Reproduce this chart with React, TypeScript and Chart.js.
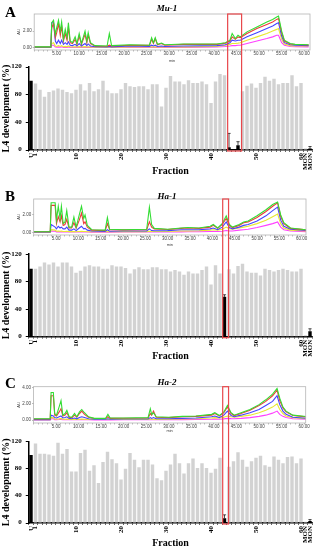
import React, { useEffect, useRef, useState } from "react";
import { Chart, registerables } from "chart.js";

Chart.register(...registerables);

const SERIF = "'Liberation Serif', 'DejaVu Serif', serif";
const SANS = "'Liberation Sans', 'DejaVu Sans', sans-serif";

// ---------- bar chart data ----------
const FRACTIONS = [
  "U", "1", "2", "3", "4", "5", "6", "7", "8", "9", "10",
  "11", "12", "13", "14", "15", "16", "17", "18", "19", "20",
  "21", "22", "23", "24", "25", "26", "27", "28", "29", "30",
  "31", "32", "33", "34", "35", "36", "37", "38", "39", "40",
  "41", "42", "43", "44", "45", "46", "47", "48", "49", "50",
  "51", "52", "53", "54", "55", "56", "57", "58", "59", "60",
  "MON", "MON",
];
const SHOWN_FRACTION_TICKS = ["U", "1", "10", "20", "30", "40", "50", "60", "MON"];
const BAR_Y_TICKS = [0, 40, 80, 120];
const BAR_Y_TITLE = "L4 development (%)";

const A_VALUES = [
  100,
  96, 87, 77, 84, 86, 89, 87, 84, 82, 87,
  95, 86, 97, 85, 88, 100, 86, 82, 82, 88,
  97, 92, 91, 92, 92, 88, 95, 95, 63, 90,
  107, 99, 99, 95, 101, 97, 97, 99, 95, 68,
  99, 110, 108, 4, 1, 7, 85, 93, 96, 90,
  97, 106, 100, 103, 95, 97, 97, 108, 92, 97,
  2, 2,
];
const A_BLACK = ["U", "44", "45", "46", "MON+"];
const A_ERRORS = [[44, 20], [46, 5], [62, 3]];

const B_VALUES = [
  99,
  99, 102, 108, 105, 108, 102, 108, 108, 102, 93,
  96, 102, 104, 102, 102, 99, 99, 104, 102, 102,
  100, 92, 98, 101, 98, 98, 101, 101, 98, 98,
  95, 97, 95, 90, 95, 92, 92, 97, 102, 76,
  104, 92, 58, 98, 92, 103, 106, 95, 93, 93,
  89, 99, 97, 95, 97, 99, 97, 95, 95, 99,
  2, 8,
];
const B_BLACK = ["U", "43", "MON+"];
const B_ERRORS = [[43, 3], [62, 3.5]];

const C_VALUES = [
  100,
  117, 102, 102, 101, 99, 118, 102, 109, 76, 76,
  103, 108, 77, 85, 59, 90, 105, 94, 88, 64,
  80, 103, 93, 82, 93, 93, 86, 66, 63, 77,
  86, 102, 88, 73, 88, 95, 81, 88, 81, 74,
  80, 96, 7, 83, 91, 104, 93, 83, 91, 96,
  99, 85, 83, 98, 93, 88, 97, 98, 88, 95,
  2, 3,
];
const C_BLACK = ["U", "43", "MON+"];
const C_ERRORS = [[43, 5], [62, 2]];

// red highlight box, in fraction units
const A_BOX = [43.7, 46.8];
const B_BOX = [42.6, 43.9];
const C_BOX = [42.6, 43.9];

// ---------- chromatogram data ----------
const CHROM_X_LABELS = [5, 10, 15, 20, 25, 30, 35, 40, 45, 50, 55, 60];

const A_TIME = [0, 3.7, 3.9, 4.3, 4.7, 5.0, 5.4, 5.8, 6.1, 6.5, 6.9, 7.3, 7.6, 8.0, 8.5, 9.1, 9.5, 10.0, 10.5, 11.3, 11.7, 12.0, 12.5, 13.5, 16.2, 16.7, 17.2, 21.3, 25.6, 26.1, 26.5, 26.9, 27.4, 28.3, 29.0, 33.2, 40.6, 42.5, 43.5, 44.0, 44.7, 45.3, 45.8, 47.3, 49.5, 51.7, 53.0, 53.9, 54.3, 55.0, 55.6, 56.9, 58.0, 61.0];
const A_GREEN = [0.1, 0.1, 3.0, 3.3, 1.6, 2.4, 3.3, 2.0, 3.1, 1.0, 2.2, 1.2, 3.0, 0.8, 0.6, 1.3, 0.5, 1.7, 0.5, 2.0, 0.8, 1.8, 0.6, 0.25, 0.2, 1.7, 0.25, 0.35, 0.3, 1.2, 0.6, 1.2, 0.4, 0.55, 0.35, 0.45, 0.45, 0.6, 0.9, 1.7, 1.1, 1.5, 1.3, 1.9, 2.5, 3.1, 3.4, 3.7, 3.8, 2.0, 0.9, 0.5, 0.4, 0.35];
const A_RED = [0.08, 0.08, 2.4, 2.9, 1.2, 1.8, 2.9, 1.5, 2.6, 0.8, 1.7, 0.9, 2.5, 0.6, 0.5, 1.0, 0.4, 1.4, 0.4, 1.6, 0.6, 1.5, 0.5, 0.2, 0.18, 0.3, 0.2, 0.3, 0.28, 1.0, 0.5, 1.1, 0.35, 0.5, 0.3, 0.4, 0.4, 0.55, 0.8, 1.3, 1.0, 1.3, 1.2, 1.7, 2.3, 2.8, 3.1, 3.4, 3.5, 1.8, 0.8, 0.45, 0.38, 0.33];
const A_BLUE = [0.05, 0.05, 3.0, 3.0, 0.8, 0.5, 0.9, 0.5, 0.9, 0.4, 0.6, 0.4, 0.7, 0.3, 0.25, 0.4, 0.2, 0.5, 0.2, 0.5, 0.25, 0.45, 0.2, 0.12, 0.1, 0.15, 0.1, 0.2, 0.15, 0.3, 0.2, 0.3, 0.15, 0.2, 0.15, 0.2, 0.25, 0.35, 0.6, 0.9, 0.8, 0.9, 0.9, 1.3, 1.8, 2.3, 2.6, 2.9, 3.0, 1.4, 0.6, 0.35, 0.3, 0.25];
const A_YELLOW = [0.05, 0.05, 0.5, 0.6, 0.2, 0.15, 0.25, 0.15, 0.25, 0.1, 0.15, 0.1, 0.2, 0.08, 0.08, 0.1, 0.08, 0.12, 0.08, 0.12, 0.08, 0.1, 0.08, 0.06, 0.06, 0.07, 0.06, 0.08, 0.08, 0.1, 0.08, 0.1, 0.08, 0.1, 0.08, 0.1, 0.15, 0.3, 0.4, 0.5, 0.5, 0.55, 0.6, 0.9, 1.3, 1.7, 2.0, 2.2, 2.3, 1.0, 0.45, 0.25, 0.22, 0.2];
const A_MAGENTA = [0.02, 0.02, 0.3, 0.3, 0.08, 0.06, 0.1, 0.06, 0.1, 0.04, 0.06, 0.04, 0.08, 0.03, 0.03, 0.04, 0.03, 0.05, 0.03, 0.05, 0.03, 0.04, 0.03, 0.02, 0.02, 0.03, 0.02, 0.03, 0.03, 0.04, 0.03, 0.04, 0.03, 0.04, 0.03, 0.04, 0.08, 0.15, 0.2, 0.25, 0.25, 0.3, 0.3, 0.5, 0.8, 1.1, 1.3, 1.5, 1.5, 0.6, 0.3, 0.15, 0.12, 0.1];

const B_TIME = [0, 3.7, 3.9, 4.8, 5.1, 5.5, 5.9, 6.2, 6.6, 7.0, 7.4, 7.9, 8.5, 9.0, 9.5, 10.2, 10.7, 11.2, 11.5, 12.0, 13.0, 16.0, 16.5, 17.0, 20.0, 25.3, 25.9, 26.4, 27.0, 30.0, 33.0, 34.5, 37.0, 39.5, 40.2, 41.2, 42.2, 43.1, 43.8, 44.5, 46.0, 47.0, 48.0, 50.0, 52.0, 53.5, 54.6, 55.3, 56.0, 57.5, 61.0];
const B_GREEN = [0.07, 0.07, 3.4, 3.4, 1.4, 3.0, 1.6, 3.0, 1.0, 1.2, 2.5, 0.6, 0.6, 1.75, 0.6, 2.0, 3.0, 1.6, 2.0, 0.8, 0.3, 0.25, 1.7, 0.35, 0.3, 0.35, 2.9, 0.9, 0.45, 0.35, 0.5, 0.55, 0.5, 0.7, 0.9, 0.5, 1.0, 1.9, 0.9, 0.6, 0.9, 1.2, 1.3, 1.9, 2.6, 3.2, 3.5, 2.0, 1.1, 0.5, 0.3];
const B_RED = [0.06, 0.06, 3.1, 3.1, 1.0, 1.8, 1.2, 1.9, 0.8, 0.9, 1.5, 0.5, 0.5, 1.1, 0.5, 1.4, 2.2, 1.0, 1.2, 0.6, 0.25, 0.2, 1.0, 0.3, 0.28, 0.3, 1.2, 0.6, 0.4, 0.32, 0.45, 0.5, 0.45, 0.6, 0.8, 0.45, 0.9, 1.6, 0.8, 0.55, 0.8, 1.1, 1.2, 1.7, 2.4, 3.0, 3.4, 1.8, 1.0, 0.45, 0.28];
const B_BLUE = [0.04, 0.04, 0.9, 0.6, 0.4, 0.7, 0.5, 0.6, 0.4, 0.4, 0.6, 0.25, 0.25, 0.4, 0.2, 0.5, 0.7, 0.4, 0.45, 0.25, 0.15, 0.1, 0.3, 0.12, 0.15, 0.15, 0.4, 0.2, 0.18, 0.2, 0.3, 0.3, 0.3, 0.4, 0.5, 0.3, 0.6, 1.2, 0.55, 0.4, 0.6, 0.8, 0.9, 1.3, 1.9, 2.5, 2.9, 1.4, 0.7, 0.35, 0.2];
const B_YELLOW = [0.04, 0.04, 0.3, 0.25, 0.12, 0.15, 0.12, 0.14, 0.1, 0.1, 0.12, 0.08, 0.08, 0.1, 0.07, 0.1, 0.12, 0.09, 0.1, 0.07, 0.06, 0.06, 0.08, 0.06, 0.08, 0.08, 0.12, 0.09, 0.09, 0.1, 0.15, 0.15, 0.18, 0.25, 0.3, 0.25, 0.35, 0.6, 0.4, 0.35, 0.5, 0.6, 0.7, 1.0, 1.4, 1.8, 2.1, 1.0, 0.5, 0.25, 0.15];
const B_MAGENTA = [0.02, 0.02, 0.15, 0.12, 0.05, 0.06, 0.05, 0.06, 0.04, 0.04, 0.05, 0.03, 0.03, 0.04, 0.03, 0.04, 0.05, 0.04, 0.04, 0.03, 0.02, 0.02, 0.03, 0.02, 0.03, 0.03, 0.05, 0.03, 0.03, 0.04, 0.05, 0.06, 0.07, 0.09, 0.1, 0.09, 0.12, 0.2, 0.15, 0.15, 0.25, 0.3, 0.35, 0.55, 0.8, 1.0, 1.2, 0.6, 0.3, 0.15, 0.08];

const C_TIME = [0, 3.7, 3.9, 4.4, 4.7, 5.1, 5.7, 6.1, 6.5, 7.0, 7.4, 7.9, 8.5, 9.1, 9.6, 10.2, 10.7, 11.3, 12.2, 13.5, 16.0, 16.5, 17.0, 20.0, 25.4, 25.9, 26.2, 26.6, 27.2, 30.0, 33.0, 36.0, 39.5, 40.2, 41.2, 42.2, 43.0, 43.8, 44.5, 46.0, 48.0, 50.0, 51.5, 53.0, 54.0, 54.6, 55.3, 56.0, 57.5, 61.0];
const C_GREEN = [0.15, 0.15, 3.4, 3.4, 0.8, 0.6, 1.65, 2.4, 0.6, 0.8, 1.2, 0.4, 0.35, 0.8, 0.4, 1.0, 1.3, 0.9, 0.4, 0.2, 0.2, 0.7, 0.25, 0.25, 0.3, 1.4, 0.7, 0.9, 0.4, 0.35, 0.45, 0.5, 0.7, 0.9, 0.55, 1.0, 1.8, 0.9, 0.6, 0.9, 1.3, 1.9, 2.5, 3.2, 3.9, 2.7, 1.6, 1.1, 0.6, 0.4];
const C_RED = [0.12, 0.12, 3.0, 3.0, 0.6, 0.5, 1.0, 1.4, 0.5, 0.6, 0.9, 0.35, 0.3, 0.6, 0.35, 0.8, 1.1, 0.7, 0.35, 0.18, 0.18, 0.4, 0.2, 0.22, 0.25, 0.8, 0.6, 1.1, 0.35, 0.3, 0.4, 0.45, 0.6, 0.8, 0.5, 0.9, 1.6, 0.8, 0.55, 0.8, 1.2, 1.8, 2.3, 3.0, 3.7, 2.4, 1.5, 1.0, 0.55, 0.35];
const C_BLUE = [0.05, 0.05, 0.6, 0.5, 0.3, 0.25, 0.4, 0.5, 0.25, 0.3, 0.4, 0.2, 0.15, 0.25, 0.15, 0.3, 0.4, 0.3, 0.15, 0.1, 0.1, 0.15, 0.1, 0.12, 0.12, 0.3, 0.2, 0.3, 0.15, 0.15, 0.2, 0.25, 0.4, 0.5, 0.3, 0.6, 1.1, 0.55, 0.4, 0.6, 0.9, 1.3, 1.8, 2.3, 3.0, 1.9, 1.1, 0.7, 0.35, 0.2];
const C_YELLOW = [0.04, 0.04, 0.3, 0.3, 0.12, 0.1, 0.15, 0.2, 0.1, 0.1, 0.12, 0.08, 0.07, 0.08, 0.07, 0.1, 0.12, 0.1, 0.07, 0.06, 0.06, 0.07, 0.06, 0.07, 0.07, 0.12, 0.09, 0.1, 0.08, 0.09, 0.12, 0.15, 0.25, 0.3, 0.25, 0.35, 0.5, 0.4, 0.35, 0.45, 0.6, 0.9, 1.2, 1.6, 2.0, 1.3, 0.8, 0.5, 0.3, 0.15];
const C_MAGENTA = [0.02, 0.02, 0.15, 0.15, 0.05, 0.04, 0.06, 0.08, 0.04, 0.04, 0.05, 0.03, 0.03, 0.03, 0.03, 0.04, 0.05, 0.04, 0.03, 0.02, 0.02, 0.03, 0.02, 0.03, 0.03, 0.05, 0.04, 0.04, 0.03, 0.04, 0.05, 0.06, 0.1, 0.12, 0.1, 0.14, 0.2, 0.17, 0.16, 0.2, 0.3, 0.45, 0.6, 0.85, 1.1, 0.7, 0.45, 0.3, 0.15, 0.08];

// ---------- styles ----------
const GRAY = "#d2d2d2";
const RED_BOX = "#e8484c";
const LINE_COLORS = { green: "#33dd33", red: "#ee3a3a", blue: "#4444ff", yellow: "#e8e830", magenta: "#ff40ff" };

type ChromSpec = {
  top: number; height: number; chartTop: number; chartBottom: number;
  left: number; right: number; yMin: number; yMax: number; xMax: number; yTicks: number[];
  minPad: number;
  time: number[]; green: number[]; red: number[]; blue: number[]; yellow: number[]; magenta: number[];
};

type BarSpec = {
  top: number; height: number; chartTop: number; chartBottom: number; boxTop: number;
  values: number[]; black: string[]; errors: number[][]; box: number[]; titlePad: number;
};

type LabelPos = { text: string; x: number; y: number };

function chromConfig(p: ChromSpec): any {
  const mk = (arr: number[], color: string) => ({
    data: p.time.map((t, i) => ({ x: t, y: arr[i] })),
    borderColor: color,
    borderWidth: 1.1,
    pointRadius: 0,
    tension: 0,
    fill: false,
  });
  const minuteTicks: number[] = [];
  for (let m = 0; m <= Math.floor(p.xMax); m++) minuteTicks.push(m);
  return {
    type: "line",
    data: {
      datasets: [
        mk(p.green, LINE_COLORS.green),
        mk(p.red, LINE_COLORS.red),
        mk(p.blue, LINE_COLORS.blue),
        mk(p.yellow, LINE_COLORS.yellow),
        mk(p.magenta, LINE_COLORS.magenta),
      ],
    },
    options: {
      responsive: false,
      animation: false,
      events: [],
      plugins: { legend: { display: false }, tooltip: { enabled: false } },
      layout: { padding: { top: p.chartTop, right: 320 - p.right, left: 0, bottom: 0 } },
      scales: {
        x: {
          type: "linear",
          min: 0,
          max: p.xMax,
          afterBuildTicks: (s: any) => { s.ticks = minuteTicks.map((v) => ({ value: v })); },
          afterFit: (s: any) => { s.height = p.height - p.chartBottom; },
          grid: { drawOnChartArea: false, tickLength: 1.5, color: "#777", lineWidth: 0.5 },
          border: { display: false },
          ticks: {
            autoSkip: false, maxRotation: 0, minRotation: 0, padding: 0,
            color: "#444", font: { family: SANS, size: 4.5 },
            callback: (v: number) => (CHROM_X_LABELS.includes(v) ? v.toFixed(2) : ""),
          },
          title: { display: true, text: "min", color: "#444", font: { family: SANS, size: 4 }, padding: { top: 0, bottom: p.minPad } },
        },
        y: {
          min: p.yMin,
          max: p.yMax,
          afterBuildTicks: (s: any) => { s.ticks = p.yTicks.map((v) => ({ value: v })); },
          afterFit: (s: any) => { s.width = p.left; },
          grid: { drawOnChartArea: false, tickLength: 1.5, color: "#777", lineWidth: 0.5 },
          border: { display: false },
          ticks: { autoSkip: false, padding: 1, color: "#444", font: { family: SANS, size: 4.5 }, callback: (v: number) => v.toFixed(2) },
          title: { display: true, text: "AU", color: "#444", font: { family: SANS, size: 4 }, padding: { top: 16, bottom: 0 } },
        },
      },
    },
    plugins: [
      {
        id: "frame",
        afterDraw(chart: any) {
          const { ctx, chartArea: a } = chart;
          ctx.save();
          ctx.strokeStyle = "#b5b5b5";
          ctx.lineWidth = 0.8;
          ctx.strokeRect(a.left, a.top, a.right - a.left, a.bottom - a.top);
          ctx.restore();
        },
      },
    ],
  };
}

function barConfig(p: BarSpec): any {
  const colors = p.values.map((_, i) => {
    const isBlack =
      (i === 0 && p.black.includes("U")) ||
      (i === FRACTIONS.length - 1 && p.black.includes("MON+")) ||
      (i > 0 && i < 61 && p.black.includes(FRACTIONS[i]));
    return isBlack ? "#000" : GRAY;
  });
  return {
    type: "bar",
    data: {
      labels: FRACTIONS,
      datasets: [{ data: p.values, backgroundColor: colors, barPercentage: 0.76, categoryPercentage: 1 }],
    },
    options: {
      responsive: false,
      animation: false,
      events: [],
      plugins: { legend: { display: false }, tooltip: { enabled: false } },
      layout: { padding: { top: p.chartTop, right: 7.75, left: 0, bottom: 0 } },
      scales: {
        x: {
          afterFit: (s: any) => { s.height = p.height - p.chartBottom; },
          grid: { drawOnChartArea: false, tickLength: 2, color: "#000", lineWidth: 0.6 },
          border: { color: "#000", width: 1.5 },
          ticks: {
            autoSkip: false, maxRotation: 90, minRotation: 90, padding: 1,
            color: "#000", font: { family: SERIF, size: 7, weight: "bold" },
            callback: (_v: any, i: number) => (SHOWN_FRACTION_TICKS.includes(FRACTIONS[i]) ? FRACTIONS[i] : ""),
          },
          title: { display: true, text: "Fraction", color: "#000", font: { family: SERIF, size: 10, weight: "bold" }, padding: { top: 0, bottom: p.titlePad } },
        },
        y: {
          type: "linear",
          min: 0,
          max: 120,
          afterBuildTicks: (s: any) => { s.ticks = BAR_Y_TICKS.map((v) => ({ value: v })); },
          afterFit: (s: any) => { s.width = 28.75; },
          grid: { drawOnChartArea: false, tickLength: 3, color: "#000", lineWidth: 1 },
          border: { color: "#000", width: 1.5 },
          ticks: { display: false },
          title: { display: false },
        },
      },
    },
    plugins: [
      {
        id: "ytitle",
        afterDraw(chart: any) {
          const { ctx, chartArea: a } = chart;
          ctx.save();
          ctx.fillStyle = "#000";
          ctx.font = "bold 10px " + SERIF;
          ctx.textAlign = "center";
          ctx.textBaseline = "middle";
          ctx.translate(6, (a.top + a.bottom) / 2);
          ctx.rotate(-Math.PI / 2);
          ctx.fillText(BAR_Y_TITLE, 0, 0);
          ctx.restore();
        },
      },
      {
        id: "errs",
        afterDatasetsDraw(chart: any) {
          const { ctx } = chart;
          const xs = chart.scales.x;
          const ys = chart.scales.y;
          ctx.save();
          ctx.strokeStyle = "#000";
          ctx.lineWidth = 0.7;
          p.errors.forEach(([idx, err]) => {
            const x = xs.getPixelForValue(idx);
            const y0 = ys.getPixelForValue(p.values[idx]);
            const y1 = ys.getPixelForValue(p.values[idx] + err);
            ctx.beginPath();
            ctx.moveTo(x, y0);
            ctx.lineTo(x, y1);
            ctx.moveTo(x - 1.6, y1);
            ctx.lineTo(x + 1.6, y1);
            ctx.stroke();
          });
          ctx.restore();
        },
      },
      {
        id: "redbox",
        afterDraw(chart: any) {
          const { ctx, chartArea: a } = chart;
          const xs = chart.scales.x;
          const x0 = xs.getPixelForValue(0);
          const step = xs.getPixelForValue(1) - x0;
          const l = x0 + p.box[0] * step;
          const r = x0 + p.box[1] * step;
          ctx.save();
          ctx.strokeStyle = RED_BOX;
          ctx.lineWidth = 1.2;
          ctx.strokeRect(l, p.boxTop, r - l, a.bottom + 1 - p.boxTop);
          ctx.restore();
        },
      },
    ],
  };
}

function ChartCanvas({ top, height, make, onLabels }: { top: number; height: number; make: () => any; onLabels?: (l: LabelPos[]) => void }) {
  const ref = useRef<HTMLCanvasElement>(null);
  useEffect(() => {
    const chart = new Chart(ref.current as HTMLCanvasElement, make());
    if (onLabels) {
      const ys: any = chart.scales.y;
      onLabels(BAR_Y_TICKS.map((v) => ({ text: String(v), x: ys.right - 7, y: top + ys.getPixelForValue(v) })));
    }
    return () => chart.destroy();
  }, []);
  return (
    <canvas
      ref={ref}
      width={320}
      height={height}
      style={{ position: "absolute", left: 0, top, width: 320, height }}
    />
  );
}

const CHROMS: ChromSpec[] = [
  { top: 0, height: 66, chartTop: 14, chartBottom: 50, left: 34.2, right: 310, yMin: -0.28, yMax: 4.05, xMax: 61.3, yTicks: [0, 2], minPad: 2.5,
    time: A_TIME, green: A_GREEN, red: A_RED, blue: A_BLUE, yellow: A_YELLOW, magenta: A_MAGENTA },
  { top: 183, height: 66, chartTop: 16, chartBottom: 52, left: 33.7, right: 306, yMin: -0.31, yMax: 3.84, xMax: 60.96, yTicks: [0, 2], minPad: 1.5,
    time: B_TIME, green: B_GREEN, red: B_RED, blue: B_BLUE, yellow: B_YELLOW, magenta: B_MAGENTA },
  { top: 368, height: 68, chartTop: 18.7, chartBottom: 55, left: 33.5, right: 305.7, yMin: -0.37, yMax: 4.12, xMax: 60.35, yTicks: [0, 2, 4], minPad: 2.5,
    time: C_TIME, green: C_GREEN, red: C_RED, blue: C_BLUE, yellow: C_YELLOW, magenta: C_MAGENTA },
];

const BARS: BarSpec[] = [
  { top: 0, height: 183, chartTop: 67, chartBottom: 150, boxTop: 14, values: A_VALUES, black: A_BLACK, errors: A_ERRORS, box: A_BOX, titlePad: 5.3 },
  { top: 183, height: 185, chartTop: 71.2, chartBottom: 153.7, boxTop: 16, values: B_VALUES, black: B_BLACK, errors: B_ERRORS, box: B_BOX, titlePad: 5.3 },
  { top: 368, height: 182, chartTop: 73.5, chartBottom: 155, boxTop: 18.7, values: C_VALUES, black: C_BLACK, errors: C_ERRORS, box: C_BOX, titlePad: 0.5 },
];

const LETTERS = [
  { text: "A", top: 5.4 },
  { text: "B", top: 189.4 },
  { text: "C", top: 376.4 },
];
const TITLES = [
  { text: "Mu", suffix: "-1", top: 3.5 },
  { text: "Ha", suffix: "-1", top: 191.5 },
  { text: "Ha", suffix: "-2", top: 377.5 },
];

export default function App() {
  const [yLabels, setYLabels] = useState<LabelPos[][]>([[], [], []]);
  const setFor = (i: number) => (l: LabelPos[]) =>
    setYLabels((prev) => {
      const n = prev.slice();
      n[i] = l;
      return n;
    });
  const allLabels: LabelPos[] = ([] as LabelPos[]).concat(...yLabels);
  return (
    <div style={{ position: "fixed", left: 0, top: 0, width: 320, height: 550, background: "#fff", overflow: "hidden" }}>
      {CHROMS.map((c, i) => (
        <ChartCanvas key={"c" + i} top={c.top} height={c.height} make={() => chromConfig(c)} />
      ))}
      {BARS.map((b, i) => (
        <ChartCanvas key={"b" + i} top={b.top} height={b.height} make={() => barConfig(b)} onLabels={setFor(i)} />
      ))}
      {LETTERS.map((l) => (
        <div key={l.text} style={{ position: "absolute", left: 5, top: l.top, fontFamily: SERIF, fontWeight: "bold", fontSize: 15, lineHeight: "15px" }}>
          {l.text}
        </div>
      ))}
      {TITLES.map((t, i) => (
        <div key={i} style={{ position: "absolute", left: 117, width: 100, textAlign: "center", top: t.top, fontFamily: SERIF, fontWeight: "bold", fontStyle: "italic", fontSize: 9, lineHeight: "9px" }}>
          {t.text}{t.suffix}
        </div>
      ))}
      {allLabels.map((l, k) => (
        <div
          key={"yl" + k}
          style={{
            position: "absolute", left: l.x - 30, width: 30, top: l.y - 3.6, textAlign: "right",
            fontFamily: SERIF, fontWeight: "bold", fontSize: 7, lineHeight: "7px", color: "#000", whiteSpace: "nowrap",
          }}
        >
          {l.text}
        </div>
      ))}
    </div>
  );
}
